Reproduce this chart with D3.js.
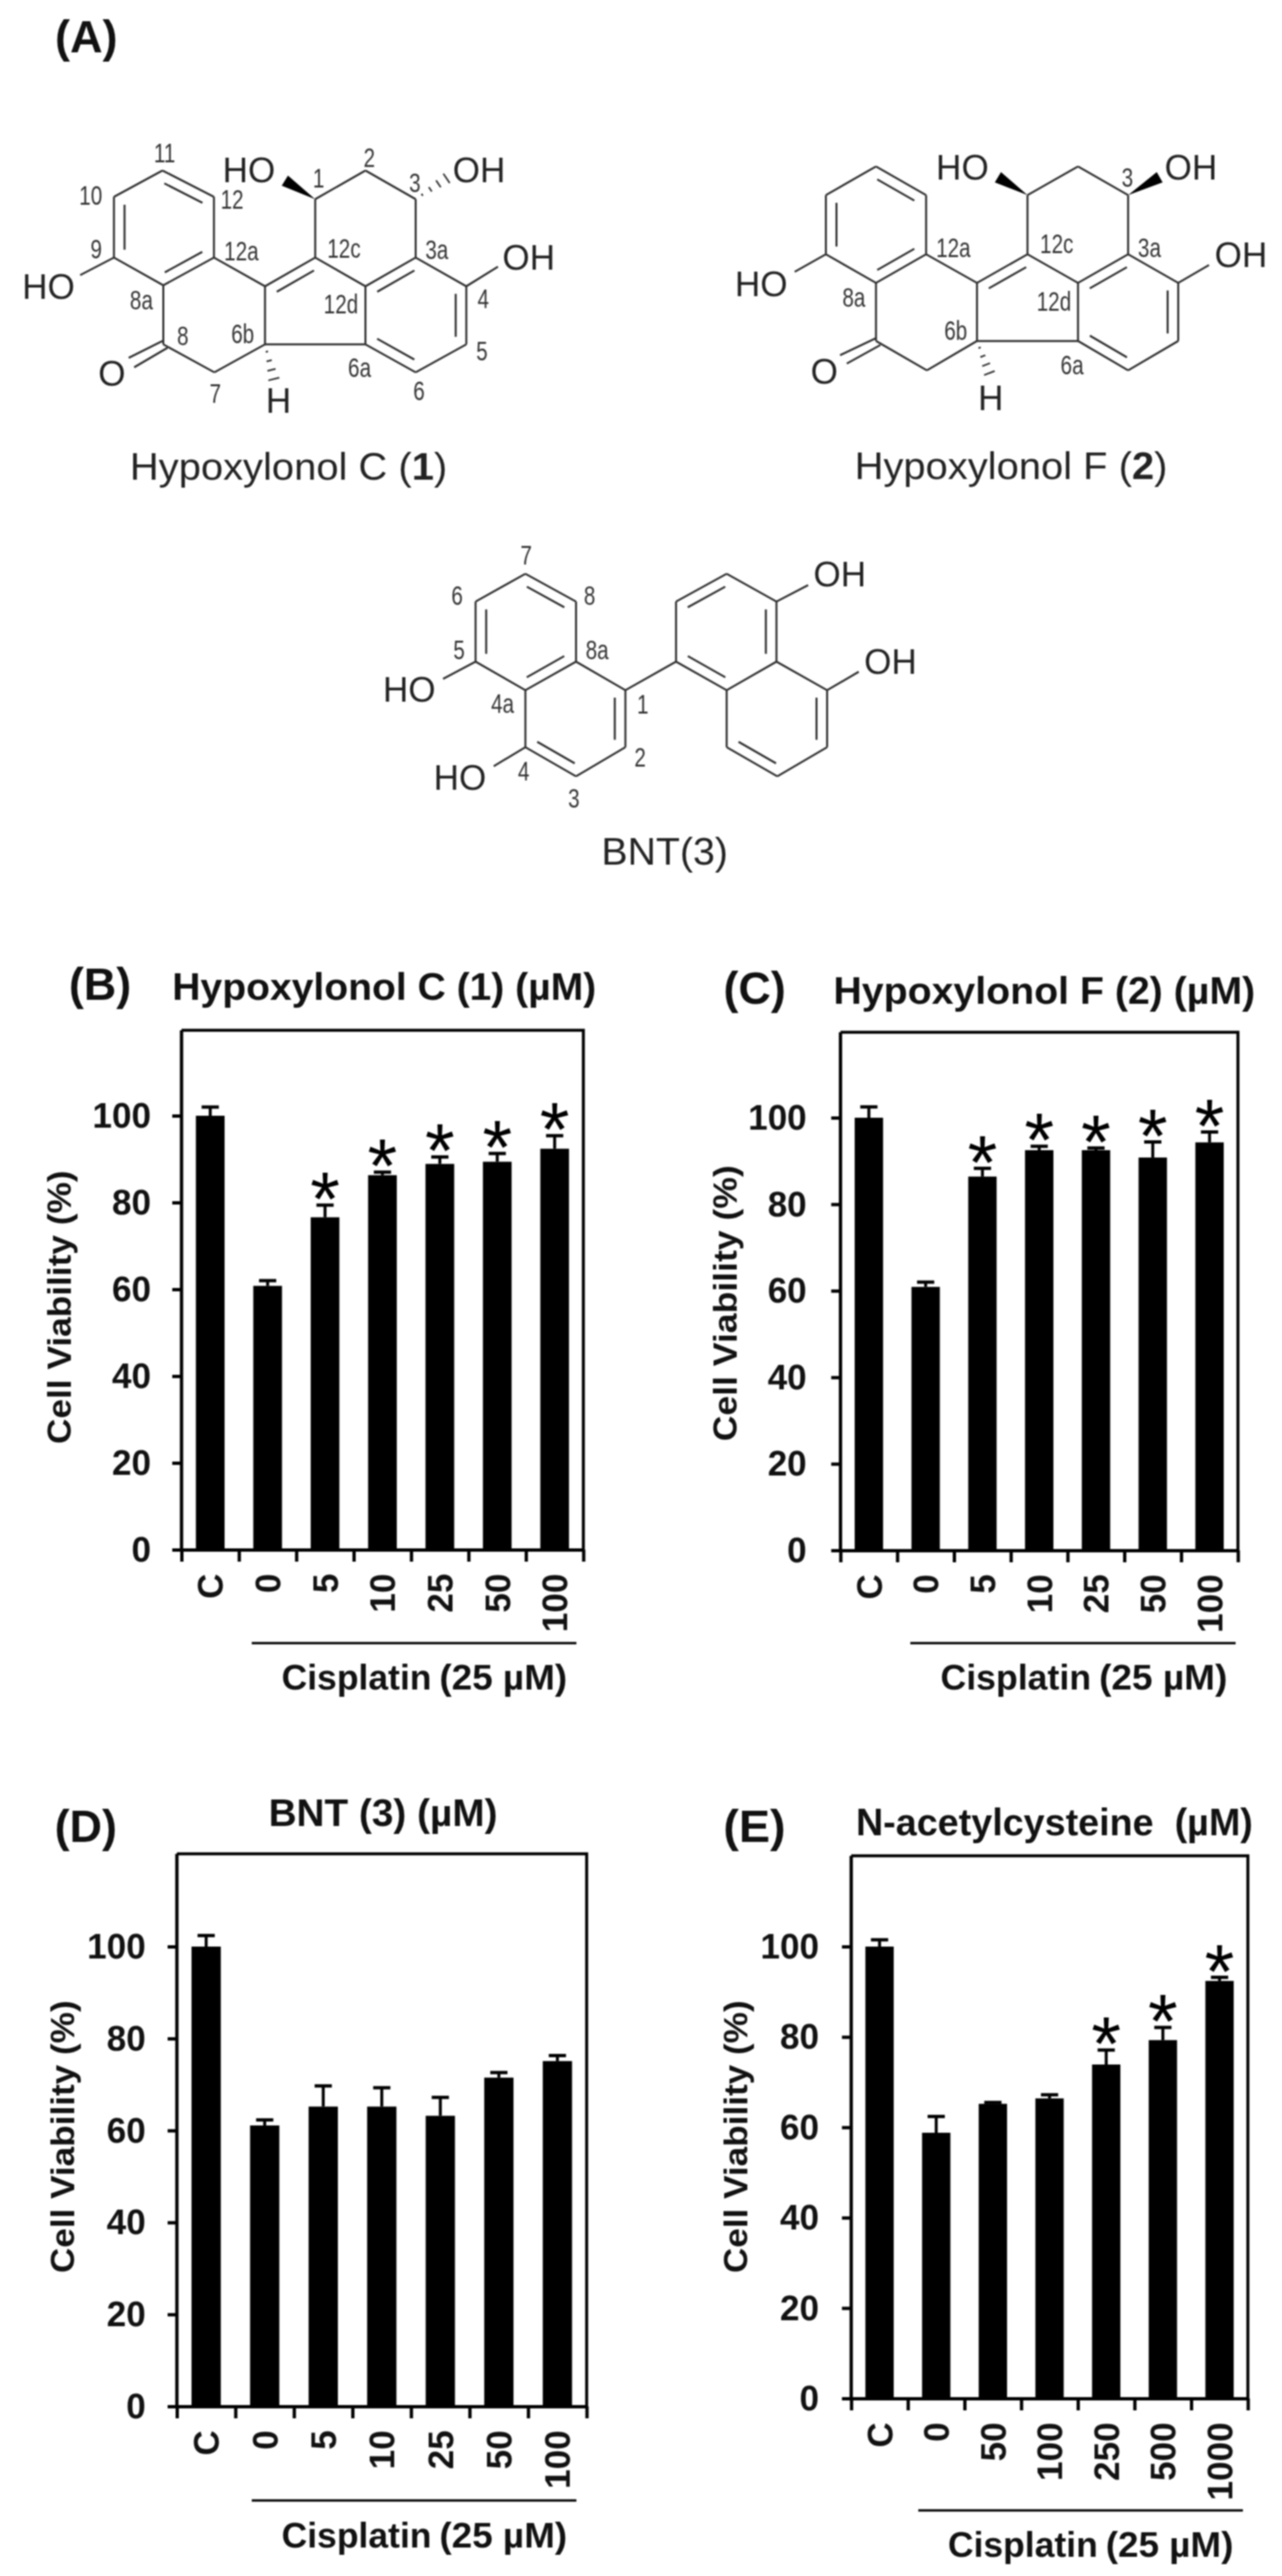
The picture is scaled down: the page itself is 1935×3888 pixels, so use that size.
<!DOCTYPE html>
<html><head><meta charset="utf-8">
<script src="https://cdn.jsdelivr.net/npm/d3@7/dist/d3.min.js"></script>
<style>
html,body{margin:0;padding:0;background:#fff}
svg{display:block;filter:blur(0.9px)}
text{font-family:"Liberation Sans",Arial,sans-serif}
</style></head><body>
<svg id="fig" width="1935" height="3888" viewBox="0 0 1935 3888"></svg>
<script>
// ---------- chart data ----------
const concentrations = ["C","0","5","10","25","50","100"];
const concentrationsNAC = ["C","0","50","100","250","500","1000"];
const yTicks = [0,20,40,60,80,100];

const meanB = [100,60.8,76.6,86.3,88.9,89.4,92.4];
const errB  = [2,1.2,2.8,0.7,1.6,1.9,3];
const starB = ["5","10","25","50","100"];

const meanC = [100,60.9,86.4,92.5,92.5,90.8,94.3];
const errC  = [2.5,1.1,1.9,0.9,0.5,3.6,2.4];
const starC = ["5","10","25","50","100"];

const meanD = [100,61.1,65.2,65.2,63.2,71.5,75.1];
const errD  = [2.4,1.2,4.5,4.1,4,1.1,1.2];
const starD = [];

const meanE = [100,58.8,65.2,66.4,73.9,79.3,92.4];
const errE  = [1.5,3.6,0.3,0.8,3.2,2.8,0.8];
const starE = ["250","500","1000"];

const svg = d3.select("#fig");
const INK = "#000";
const GREY = "#2e2e2e";

// ---------- bar panels ----------
function panel(o){
  const g = svg.append("g");
  const y = d3.scaleLinear().domain([0,100]).range([o.base,o.y100]);
  const x = d3.scaleBand().domain(o.cats).range([o.left,o.right]).paddingInner(0.5).paddingOuter(0.25);
  const edge = d3.scaleLinear().domain([0,o.cats.length]).range([o.left,o.right]);

  // frame top + right
  g.append("path").attr("fill","none").attr("stroke",INK).attr("stroke-width",4.5)
    .attr("d",d3.line()([[o.left,o.top],[o.right,o.top],[o.right,o.base]]));

  // bars
  const rows = o.cats.map((c,i)=>({c,m:o.mean[i],e:o.err[i]}));
  g.selectAll("rect.bar").data(rows).join("rect").attr("class","bar")
    .attr("x",d=>x(d.c)).attr("width",x.bandwidth())
    .attr("y",d=>y(d.m)).attr("height",d=>y(0)-y(d.m)).attr("fill",INK);
  // error bars
  g.selectAll("line.stem").data(rows).join("line").attr("class","stem")
    .attr("x1",d=>x(d.c)+x.bandwidth()/2).attr("x2",d=>x(d.c)+x.bandwidth()/2)
    .attr("y1",d=>y(d.m)).attr("y2",d=>y(d.m+d.e)).attr("stroke",INK).attr("stroke-width",4.5);
  g.selectAll("line.cap").data(rows).join("line").attr("class","cap")
    .attr("x1",d=>x(d.c)+x.bandwidth()/2-13).attr("x2",d=>x(d.c)+x.bandwidth()/2+13)
    .attr("y1",d=>y(d.m+d.e)).attr("y2",d=>y(d.m+d.e)).attr("stroke",INK).attr("stroke-width",5);
  // stars
  const fs = 115;
  g.selectAll("text.star").data(rows.filter(d=>o.stars.includes(d.c))).join("text").attr("class","star")
    .attr("x",d=>x(d.c)+x.bandwidth()/2).attr("y",d=>y(d.m+d.e)-33+fs*0.55)
    .attr("text-anchor","middle").attr("font-size",fs).attr("fill",INK).text("*");

  // y axis
  const ya = g.append("g").attr("transform",`translate(${o.left},0)`)
    .call(d3.axisLeft(y).tickValues(yTicks).tickSize(14).tickPadding(o.pad).tickSizeOuter(0));
  ya.select(".domain").attr("stroke",INK).attr("stroke-width",5).attr("d",`M0,${o.top}V${o.base}`);
  ya.selectAll(".tick line").attr("stroke",INK).attr("stroke-width",5);
  ya.selectAll(".tick text").attr("font-family",'"Liberation Sans"').attr("font-size",53).attr("font-weight",700).attr("fill","#111").attr("dy","0.33em");

  // x axis ticks at band edges
  const xa = g.append("g").attr("transform",`translate(0,${o.base})`)
    .call(d3.axisBottom(edge).tickValues(d3.range(o.cats.length+1)).tickSize(18).tickFormat("").tickSizeOuter(0));
  xa.select(".domain").attr("stroke",INK).attr("stroke-width",5);
  xa.selectAll(".tick line").attr("stroke",INK).attr("stroke-width",5);

  // x labels
  g.selectAll("text.xl").data(o.cats).join("text").attr("class","xl")
    .attr("transform",d=>`translate(${x(d)+x.bandwidth()/2},${o.base+36}) rotate(-90)`)
    .attr("text-anchor","end").attr("dy","0.36em").attr("font-size",53).attr("font-weight",700).attr("fill","#111").text(d=>d);

  // y title
  g.append("text").attr("transform",`translate(${o.yt[0]},${o.yt[1]}) rotate(-90)`)
    .attr("text-anchor","middle").attr("font-size",50).attr("font-weight",700).attr("fill","#111")
    .attr("textLength",o.yt[2]).attr("lengthAdjust","spacingAndGlyphs").text("Cell Viability (%)");

  // panel letter and title
  g.append("text").attr("x",o.letter[1]).attr("y",o.letter[2]).attr("font-size",68).attr("font-weight",700).attr("fill","#111")
    .attr("textLength",94).attr("lengthAdjust","spacingAndGlyphs").text(o.letter[0]);
  g.append("text").attr("x",o.title[1]).attr("y",o.title[2]).attr("font-size",58).attr("font-weight",700).attr("fill","#111")
    .attr("textLength",o.title[3]).attr("lengthAdjust","spacingAndGlyphs").text(o.title[0]);

  // cisplatin bracket
  g.append("line").attr("x1",o.line[0]).attr("x2",o.line[1]).attr("y1",o.line[2]).attr("y2",o.line[2]).attr("stroke",INK).attr("stroke-width",3.5);
  const cisW = o.cis[2];
  g.append("text").attr("x",o.cis[0]).attr("y",o.cis[1]).attr("font-size",54).attr("font-weight",700).attr("fill","#111")
    .attr("textLength",cisW*0.525).attr("lengthAdjust","spacingAndGlyphs").text("Cisplatin");
  g.append("text").attr("x",o.cis[0]+cisW*0.553).attr("y",o.cis[1]).attr("font-size",54).attr("font-weight",700).attr("fill","#111")
    .attr("textLength",cisW*0.447).attr("lengthAdjust","spacingAndGlyphs").text("(25 µM)");
}

panel({cats:concentrations,mean:meanB,err:errB,stars:starB,left:274,right:880.5,top:1555,base:2339,y100:1684,pad:32,
  yt:[107,1973,413],letter:["(B)",104,1509],title:["Hypoxylonol C (1) (µM)",260,1509,640],line:[380,870,2480],cis:[425,2550,431]});
panel({cats:concentrations,mean:meanC,err:errC,stars:starC,left:1268.6,right:1868.5,top:1558,base:2340,y100:1687,pad:37,
  yt:[1112,1967,416.5],letter:["(C)",1092,1515],title:["Hypoxylonol F (2) (µM)",1258,1515,636.5],line:[1374,1865,2480],cis:[1419.5,2550,433]});
panel({cats:concentrations,mean:meanD,err:errD,stars:starD,left:267,right:885.5,top:2798,base:3632,y100:2938,pad:33,
  yt:[112,3225,411.6],letter:["(D)",82.5,2780],title:["BNT (3) (µM)",405.4,2756,345.5],line:[380,870,3774],cis:[425,3844.6,431]});
panel({cats:concentrationsNAC,mean:meanE,err:errE,stars:starE,left:1284.8,right:1883.5,top:2801,base:3620,y100:2938,pad:34.5,
  yt:[1127.7,3225,411.6],letter:["(E)",1091.7,2780],title:["N-acetylcysteine\u00a0\u00a0(µM)",1292,2770,599],line:[1386,1876,3789],cis:[1430.7,3859,431]});

svg.append("text").attr("x",83).attr("y",79).attr("font-size",68).attr("font-weight",700).attr("fill","#111").text("(A)");

// ---------- chemical structures (drawn in their own sketch units) ----------
function molecule(m){
  const g = svg.append("g");
  const X = d3.scaleLinear().domain([0,1570]).range(m.xr);
  const Y = d3.scaleLinear().domain([0,1570]).range(m.yr);
  const P = k => Array.isArray(k) ? [X(k[0]),Y(k[1])] : [X(m.atoms[k][0]),Y(m.atoms[k][1])];
  const seg = (a,b,w)=>g.append("line").attr("x1",a[0]).attr("y1",a[1]).attr("x2",b[0]).attr("y2",b[1]).attr("stroke",GREY).attr("stroke-width",w||3);
  m.single.forEach(([a,b])=>seg(P(a),P(b)));
  m.double.forEach(([a,b,c])=>{
    const A=P(a),B=P(b),C=P(c);
    seg(A,B);
    const d=[B[0]-A[0],B[1]-A[1]],L=Math.hypot(d[0],d[1]);
    let n=[-d[1]/L,d[0]/L];
    if((C[0]-A[0])*n[0]+(C[1]-A[1])*n[1]<0) n=[-n[0],-n[1]];
    const off=16,t=0.13;
    seg([A[0]+d[0]*t+n[0]*off,A[1]+d[1]*t+n[1]*off],[B[0]-d[0]*t+n[0]*off,B[1]-d[1]*t+n[1]*off]);
  });
  (m.wedge||[]).forEach(([a,b])=>{
    const A=P(a),B=P(b),d=[B[0]-A[0],B[1]-A[1]],L=Math.hypot(d[0],d[1]),n=[-d[1]/L*9,d[0]/L*9];
    g.append("polygon").attr("points",[A,[B[0]+n[0],B[1]+n[1]],[B[0]-n[0],B[1]-n[1]]].map(p=>p.join(",")).join(" ")).attr("fill","#000");
  });
  (m.hash||[]).forEach(([a,b])=>{
    const A=P(a),B=P(b),d=[B[0]-A[0],B[1]-A[1]],L=Math.hypot(d[0],d[1]);
    [0.2,0.45,0.7,0.95].forEach(f=>{
      const c=[A[0]+d[0]*f,A[1]+d[1]*f],h=f*9,n=[-d[1]/L*h,d[0]/L*h];
      seg([c[0]+n[0],c[1]+n[1]],[c[0]-n[0],c[1]-n[1]],2.5);
    });
  });
  m.big.forEach(([t,x,y])=>g.append("text").attr("x",X(x)).attr("y",Y(y)).attr("dy","0.36em").attr("text-anchor","middle").attr("font-size",53).attr("fill","#222").text(t));
  m.small.forEach(([t,x,y])=>g.append("text").attr("transform",`translate(${X(x)},${Y(y)}) scale(0.78,1)`).attr("dy","0.36em").attr("text-anchor","middle").attr("font-size",40).attr("fill","#333").text(t));
  const tt=g.append("text").attr("x",m.name.x).attr("y",m.name.y).attr("font-size",57).attr("fill","#222")
    .attr("textLength",m.name.len).attr("lengthAdjust","spacingAndGlyphs");
  tt.append("tspan").text(m.name.pre);
  if(m.name.bold) tt.append("tspan").attr("font-weight",700).text(m.name.bold);
  if(m.name.post) tt.append("tspan").text(m.name.post);
}

const skeletonSingles = [["11","10"],["9","8a"],["12a","12"],["12a","12b"],["12c","12d"],["3a","4"],["5","6"],["6a","12d"],["6a","6b"],["6b","12b"],["6b","7"],["7","8"],["8","8a"],["12c","1"],["1","2"],["2","3"],["3","3a"]];
const skeletonDoubles = [["10","9","12a"],["8a","12a","12"],["12","11","10"],["12b","12c","12d"],["12d","3a","5"],["4","5","6"],["6","6a","3a"]];

molecule({xr:[0,1000],yr:[0,800],
  atoms:{"11":[385,505],"10":[270,583],"9":[270,763],"8a":[387,845],"12a":[507,763],"12":[507,583],"12b":[628,848],"12c":[747,763],"12d":[866,848],"3a":[985,763],"4":[1105,848],"5":[1105,1020],"6":[985,1103],"6a":[866,1020],"6b":[628,1020],"7":[508,1103],"8":[387,1020],"1":[747,590],"2":[866,505],"3":[985,590]},
  single:skeletonSingles.concat([["9",[190,815]],["4",[1180,790]],[[385,1010],[305,1060]],[[397,1030],[318,1088]]]),
  double:skeletonDoubles,
  wedge:[["1",[675,535]]],hash:[["3",[1062,525]],["6b",[650,1128]]],
  big:[["HO",590,503],["OH",1135,503],["OH",1253,762],["HO",115,848],["O",265,1105],["H",660,1185]],
  small:[["11",390,452],["10",215,578],["12",550,590],["9",228,738],["12a",572,743],["1",755,528],["2",875,467],["3",983,540],["12c",815,735],["3a",1035,740],["8a",335,888],["12d",808,900],["4",1145,885],["5",1142,1040],["6b",575,988],["8",433,995],["6a",852,1088],["7",510,1165],["6",993,1158]],
  name:{x:196,y:723.6,len:479,pre:"Hypoxylonol C (",bold:"1",post:")"}});

molecule({xr:[1000,1935],yr:[0,800],
  atoms:{"11":[541,493],"10":[414,578],"9":[414,753],"8a":[541,838],"12a":[668,753],"12":[668,578],"12b":[797,838],"12c":[925,753],"12d":[1053,838],"3a":[1180,753],"4":[1307,838],"5":[1307,1010],"6":[1180,1097],"6a":[1053,1010],"6b":[797,1010],"7":[670,1097],"8":[541,1010],"1":[925,578],"2":[1053,493],"3":[1180,578]},
  single:skeletonSingles.concat([["9",[335,805]],["4",[1385,785]],[[540,1002],[450,1052]],[[552,1022],[467,1077]]]),
  double:skeletonDoubles,
  wedge:[["1",[850,525]],["3",[1260,525]]],hash:[["6b",[830,1110]]],
  big:[["HO",250,839],["HO",760,494],["OH",1339,494],["OH",1466,754],["O",410,1098],["H",832,1178]],
  small:[["12a",737,733],["12c",999,722],["3a",1234,733],["8a",485,880],["12d",992,892],["6b",743,978],["6a",1038,1080],["3",1178,525]],
  name:{x:1290,y:722.6,len:472,pre:"Hypoxylonol F (",bold:"2",post:")"}});

molecule({xr:[500,1500],yr:[780,1380],
  atoms:{"7":[460,225],"6":[342,335],"5":[342,572],"4a":[460,685],"8a":[580,572],"8":[580,335],"1":[697,685],"2":[697,910],"3":[580,1025],"4":[460,910],
         "r1":[817,572],"r2":[817,335],"r3":[937,225],"r4":[1055,335],"r4a":[1055,572],"r8a":[937,685],"r5":[1175,685],"r6":[1175,910],"r7":[1057,1025],"r8":[937,910]},
  single:[["7","6"],["5","4a"],["8a","8"],["8a","1"],["2","3"],["4","4a"],["1","r1"],["r8a","r4a"],["r4","r3"],["r2","r1"],["r4a","r5"],["r6","r7"],["r8","r8a"],
          ["5",[265,640]],["4",[385,985]],["r4",[1130,270]],["r5",[1250,612]]],
  double:[["6","5","8a"],["4a","8a","8"],["8","7","6"],["1","2","4"],["3","4","2"],["r1","r8a","r4a"],["r4a","r4","r2"],["r3","r2","r4"],["r5","r6","r8"],["r7","r8","r6"]],
  big:[["HO",185,680],["HO",305,1027],["OH",1205,225],["OH",1325,570]],
  small:[["7",462,150],["6",298,310],["8",612,310],["5",303,525],["8a",630,525],["4a",406,737],["1",738,740],["2",732,950],["4",456,1005],["3",575,1110]],
  name:{x:907.7,y:1305,len:191,pre:"BNT(3)"}});
</script>
</body></html>
